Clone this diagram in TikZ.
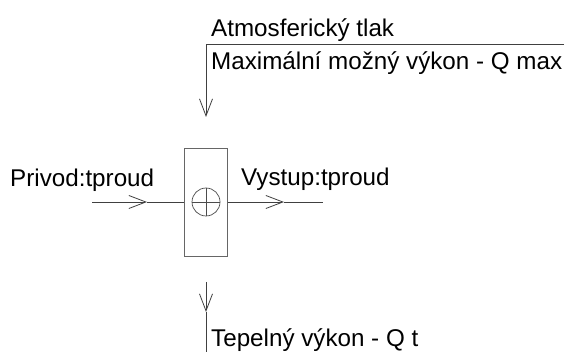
\documentclass[tikz,border=0pt]{standalone}
\usepackage{fontspec}
\setmainfont{Liberation Sans}
\usetikzlibrary{arrows.meta}
\tikzstyle{block}=[rectangle, draw=black!60, line width=0.8pt, minimum width=43pt, minimum height=108pt, inner sep=0pt]
\tikzstyle{summer}=[circle, draw=black!70, line width=0.7pt, minimum size=28pt, inner sep=0pt, path picture={\draw[black!70, line width=0.7pt] (path picture bounding box.north) -- (path picture bounding box.south) (path picture bounding box.west) -- (path picture bounding box.east);}]
\tikzstyle{portname}=[anchor=base west, inner sep=0pt, font=\fontsize{24.2}{29}\selectfont]

\begin{document}
\begin{tikzpicture}[
        x=1pt, y=-1pt,
        line/.style={black!75, line width=0.8pt, -{Straight Barb[length=17pt, width=13pt]}},
        wire/.style={black!75, line width=0.8pt},
      ]
      \useasboundingbox (0,0) rectangle (567,352);
      \node (Block) [block] at (206,202) {};
      \node (Sum) [summer] at (206,202) {};
      \coordinate (InStart) at (92,202);
      \coordinate (InTip) at (147,202);
      \coordinate (OutTip) at (284,202);
      \coordinate (OutEnd) at (323,202);
      \coordinate (TopEnd) at (564,44);
      \coordinate (TopCorner) at (206,44);
      \coordinate (TopTip) at (206,117);
      \coordinate (BotStart) at (206,282);
      \coordinate (BotTip) at (206,312);
      \coordinate (BotEnd) at (206,352);
      \node (Atm) [portname] at (211,37) {Atmosferický tlak};
      \node (Qmax) [portname] at (211,70) {Maximální možný výkon - Q max};
      \node (Privod) [portname] at (10,187) {Privod:tproud};
      \node (Vystup) [portname] at (241,186) {Vystup:tproud};
      \node (Qt) [portname] at (211,346) {Tepelný výkon - Q t};
      \draw [line] (TopEnd) -- (TopCorner) -- (TopTip);
      \draw [line] (InStart) -- (InTip);
      \draw [wire] (InTip) -- (Block.west);
      \draw [line] (Block.east) -- (OutTip);
      \draw [wire] (OutTip) -- (OutEnd);
      \draw [line] (BotStart) -- (BotTip);
      \draw [wire] (BotTip) -- (BotEnd);
    \end{tikzpicture}
\end{document}
